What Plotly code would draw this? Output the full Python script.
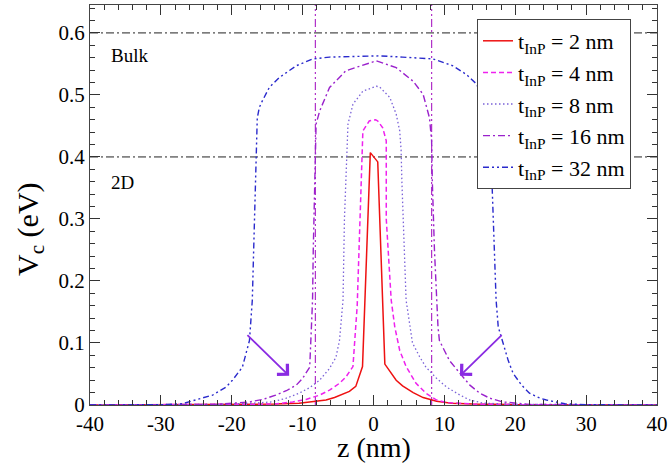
import plotly.graph_objects as go

# ---------------- data ----------------
z_2nm = [-40, -20, -14, -10.5, -8.5, -6.7, -5.5, -4.3, -3.4, -2.5, -1.55, -0.45, 0.6, 1.6, 2.3, 3.2, 4.1, 5.6, 7.0, 8.9, 11, 14, 20, 40]
v_2nm = [0, 0.0005, 0.0015, 0.003, 0.005, 0.008, 0.012, 0.017, 0.022, 0.030, 0.062, 0.407, 0.392, 0.066, 0.054, 0.040, 0.031, 0.020, 0.012, 0.006, 0.003, 0.0015, 0.0005, 0]

z_4nm = [-40, -20, -14, -11.4, -9.5, -7.6, -6.2, -4.8, -3.9, -2.9, -2.6, -2.3, -1.9, -1.5, -0.6, 0.3, 0.6, 1.3, 1.8, 1.8, 2.5, 3.0, 3.7, 4.6, 6.0, 7.4, 8.9, 10.3, 14, 20, 40]
v_4nm = [0, 0.0005, 0.0015, 0.005, 0.009, 0.016, 0.024, 0.035, 0.045, 0.062, 0.115, 0.160, 0.300, 0.442, 0.458, 0.460, 0.458, 0.447, 0.426, 0.300, 0.169, 0.126, 0.088, 0.062, 0.035, 0.019, 0.008, 0.004, 0.0015, 0.0005, 0]

z_8nm = [-40, -22, -17, -14.3, -12.3, -10.5, -9.0, -7.6, -6.2, -5.3, -4.8, -4.3, -4.1, -3.9, -3.6, -2.9, -1.5, 0.4, 0.85, 2.3, 3.2, 3.7, 3.9, 4.0, 4.6, 5.5, 6.5, 7.4, 8.9, 10.3, 12.2, 13.6, 15.5, 20, 40]
v_8nm = [0, 0.001, 0.003, 0.005, 0.011, 0.019, 0.028, 0.040, 0.059, 0.077, 0.104, 0.169, 0.300, 0.370, 0.453, 0.485, 0.506, 0.514, 0.513, 0.496, 0.469, 0.442, 0.410, 0.362, 0.169, 0.100, 0.078, 0.061, 0.043, 0.029, 0.016, 0.008, 0.003, 0.001, 0]

z_16nm = [-40, -22, -17.5, -15.6, -13.8, -12.3, -10.9, -10.0, -9.0, -8.8, -8.6, -8.5, -8.3, -8.1, -7.6, -6.2, -3.9, -0.6, 0.4, 3.2, 5.6, 7.0, 7.9, 8.2, 8.3, 8.6, 8.9, 9.1, 9.3, 10.7, 12.2, 13.6, 15.0, 16.4, 18.2, 22, 40]
v_16nm = [0, 0.001, 0.005, 0.009, 0.016, 0.023, 0.032, 0.043, 0.061, 0.104, 0.169, 0.250, 0.370, 0.453, 0.474, 0.512, 0.539, 0.552, 0.555, 0.544, 0.522, 0.501, 0.463, 0.426, 0.360, 0.250, 0.169, 0.126, 0.104, 0.072, 0.051, 0.032, 0.019, 0.011, 0.005, 0.001, 0]

z_32nm = [-40, -30, -27, -24.1, -22.7, -20.8, -19.9, -18.5, -17.5, -17.1, -16.9, -16.6, -16.4, -16.1, -15.7, -14.7, -13.3, -10.9, -8.6, -6.2, 0.85, 4.1, 8.4, 11.2, 13.1, 14.5, 15.7, 16.4, 16.7, 17.0, 17.3, 17.6, 18.3, 19.0, 19.7, 20.9, 22.0, 23.5, 24.4, 27, 30, 40]
v_32nm = [0, 0.0005, 0.002, 0.011, 0.016, 0.029, 0.040, 0.061, 0.104, 0.169, 0.250, 0.370, 0.463, 0.480, 0.490, 0.512, 0.528, 0.547, 0.558, 0.561, 0.563, 0.561, 0.558, 0.547, 0.533, 0.518, 0.490, 0.463, 0.370, 0.250, 0.169, 0.126, 0.100, 0.072, 0.051, 0.032, 0.019, 0.011, 0.008, 0.002, 0.0005, 0]

series_names = ["t<sub>InP</sub> = 2 nm", "t<sub>InP</sub> = 4 nm", "t<sub>InP</sub> = 8 nm",
                "t<sub>InP</sub> = 16 nm", "t<sub>InP</sub> = 32 nm"]

level_values = [0.6, 0.4]          # Bulk and 2D reference levels (eV)
level_labels = ["Bulk", "2D"]
level_label_y = [0.563, 0.358]
well_edges = [-8.2, 8.2]           # vertical markers (nm)

x_tick_vals = [-40, -30, -20, -10, 0, 10, 20, 30, 40]
x_tick_text = ["-40", "-30", "-20", "-10", "0", "10", "20", "30", "40"]
y_tick_vals = [0, 0.1, 0.2, 0.3, 0.4, 0.5, 0.6]
y_tick_text = ["0", "0.1", "0.2", "0.3", "0.4", "0.5", "0.6"]

x_title = "z (nm)"
y_title = "V<sub>c</sub> (eV)"

# arrows: (tail z, tail V, head z, head V)
arrow_tail_z = [-18.0, 18.3]
arrow_tail_v = [0.115, 0.115]
arrow_head_z = [-11.9, 12.2]
arrow_head_v = [0.047, 0.047]

# ---------------- figure ----------------
FONT = "Liberation Serif"
fig = go.Figure()

for lv in level_values:
    fig.add_trace(go.Scatter(x=[-40, 40], y=[lv, lv], mode="lines", showlegend=False,
                             line=dict(color="#222222", width=1, dash="8px,3px,2px,3px"),
                             hoverinfo="skip"))
for we in well_edges:
    fig.add_trace(go.Scatter(x=[we, we], y=[0, 0.645], mode="lines", showlegend=False,
                             line=dict(color="#b030c8", width=1.2, dash="8px,3px,2px,3px,2px,3px"),
                             hoverinfo="skip"))

styles = [
    dict(color="#ee1111", width=1.5, dash="solid"),
    dict(color="#ee22ee", width=1.5, dash="5px,3px"),
    dict(color="#7a62d8", width=1.3, dash="1.5px,2.5px"),
    dict(color="#9a22cc", width=1.4, dash="7px,3px,2px,3px"),
    dict(color="#2a2acc", width=1.4, dash="6px,3px,2px,3px,2px,3px"),
]
zs = [z_2nm, z_4nm, z_8nm, z_16nm, z_32nm]
vs = [v_2nm, v_4nm, v_8nm, v_16nm, v_32nm]
for name, z, v, st in zip(series_names, zs, vs, styles):
    fig.add_trace(go.Scatter(x=z, y=v, mode="lines", name=name, line=st))

annotations = []
for txt, ly in zip(level_labels, level_label_y):
    annotations.append(dict(x=-37.3, y=ly, xref="x", yref="y", text=txt, showarrow=False,
                            xanchor="left", yanchor="middle",
                            font=dict(family=FONT, size=19, color="black")))
for tz, tv, hz, hv in zip(arrow_tail_z, arrow_tail_v, arrow_head_z, arrow_head_v):
    annotations.append(dict(x=hz, y=hv, ax=tz, ay=tv, xref="x", yref="y", axref="x", ayref="y",
                            text="", showarrow=True, arrowhead=4, arrowsize=1.6, arrowwidth=1.8,
                            arrowcolor="#8a2be2", standoff=0))
# axis titles as annotations for precise placement
annotations.append(dict(x=0.5, y=-0.107, xref="paper", yref="paper", text=x_title, showarrow=False,
                        xanchor="center", yanchor="middle",
                        font=dict(family=FONT, size=28, color="black")))
annotations.append(dict(x=-0.106, y=0.44, xref="paper", yref="paper", text=y_title, showarrow=False,
                        textangle=-90, xanchor="center", yanchor="middle",
                        font=dict(family=FONT, size=30, color="black")))

axis_common = dict(showline=True, linecolor="#444444", linewidth=1, mirror="allticks",
                   ticks="inside", ticklen=10, tickwidth=1, tickcolor="#333333",
                   showgrid=False, zeroline=False,
                   tickfont=dict(family=FONT, size=21, color="black"))

fig.update_layout(
    width=671, height=466,
    margin=dict(l=90, r=14, t=5, b=61),
    paper_bgcolor="white", plot_bgcolor="white",
    font=dict(family=FONT, color="black"),
    xaxis=dict(range=[-40, 40], tickvals=x_tick_vals, ticktext=x_tick_text,
               minor=dict(ticks="inside", ticklen=5, dtick=2, tickcolor="#333333", showgrid=False),
               automargin=False, **axis_common),
    yaxis=dict(range=[0, 0.645], tickvals=y_tick_vals, ticktext=y_tick_text,
               minor=dict(ticks="inside", ticklen=5, dtick=0.02, tickcolor="#333333", showgrid=False),
               automargin=False, **axis_common),
    legend=dict(x=(477 - 90) / 567, y=(405 - 19) / 400, xanchor="left", yanchor="top",
                bgcolor="white", bordercolor="#444444", borderwidth=1,
                font=dict(family=FONT, size=22, color="black"),
                itemwidth=30, tracegroupgap=0),
    annotations=annotations,
    showlegend=True,
)

fig.write_html("out.html", config={"displayModeBar": False},
               post_script="document.body.style.margin='0';document.body.style.padding='0';")
